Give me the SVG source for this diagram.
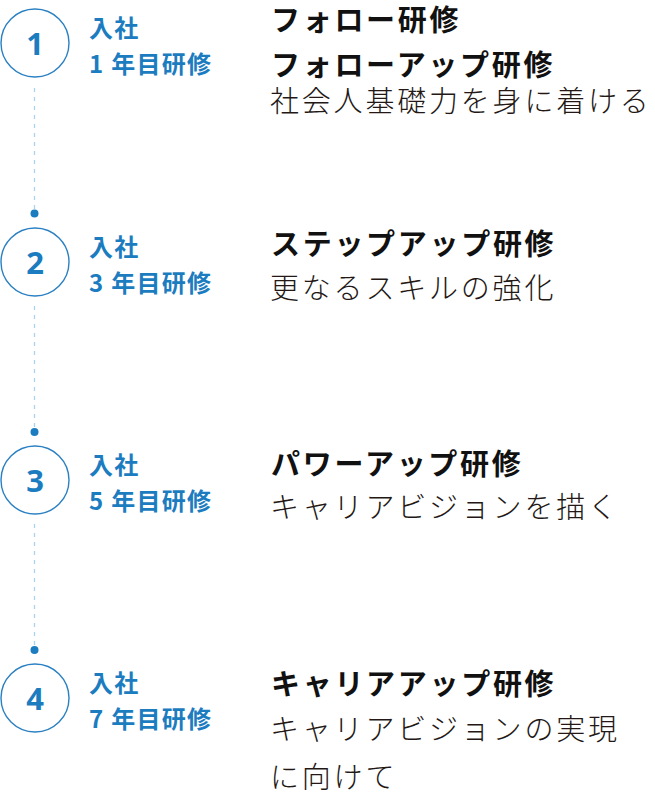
<svg xmlns="http://www.w3.org/2000/svg" width="655" height="806" viewBox="0 0 655 806">
<style>
.circ{fill:#fff;stroke:#2a80c2;stroke-width:1.4}
.num{font-family:"Noto Sans","Noto Sans CJK JP",sans-serif;font-weight:700;font-size:31px;fill:#1c7cc0;text-anchor:middle}
.lbl{font-family:"Noto Sans CJK JP",sans-serif;font-weight:700;font-size:24px;fill:#1c7cc0;letter-spacing:1.3px}
.ttl{font-family:"Noto Sans CJK JP",sans-serif;font-weight:700;font-size:29px;fill:#111;letter-spacing:2.7px}
.dsc{font-family:"Noto Sans CJK JP",sans-serif;font-weight:300;font-size:29px;fill:#231815;letter-spacing:2.8px}
.dash{stroke:#a9d3ee;stroke-width:1.3;stroke-dasharray:4 5;fill:none}
.dot{fill:#1c7cc0}
</style>
<g id="connectors">
<line class="dash" x1="34.5" y1="88" x2="34.5" y2="209"/>
<circle class="dot" cx="34.5" cy="213.5" r="4"/>
<line class="dash" x1="34.5" y1="306" x2="34.5" y2="427"/>
<circle class="dot" cx="34.5" cy="432" r="4"/>
<line class="dash" x1="34.5" y1="524" x2="34.5" y2="645"/>
<circle class="dot" cx="34.5" cy="650" r="4"/>
</g>
<g id="step1">
<circle class="circ" cx="35" cy="43" r="34"/>
<text class="num" x="35" y="54.5">1</text>
<text class="lbl" x="89" y="37">入社</text>
<text class="lbl" x="89" y="72.5">1 年目研修</text>
<text class="ttl" x="271" y="31">フォロー研修</text>
<text class="ttl" x="271" y="76">フォローアップ研修</text>
<text class="dsc" x="270" y="112">社会人基礎力を身に着ける</text>
</g>
<g id="step2">
<circle class="circ" cx="35" cy="262" r="34"/>
<text class="num" x="35" y="273.5">2</text>
<text class="lbl" x="89" y="256">入社</text>
<text class="lbl" x="89" y="291.5">3 年目研修</text>
<text class="ttl" x="271" y="254.5">ステップアップ研修</text>
<text class="dsc" x="270" y="298.5">更なるスキルの強化</text>
</g>
<g id="step3">
<circle class="circ" cx="35" cy="480" r="34"/>
<text class="num" x="35" y="491.5">3</text>
<text class="lbl" x="89" y="474">入社</text>
<text class="lbl" x="89" y="509.5">5 年目研修</text>
<text class="ttl" x="271" y="475">パワーアップ研修</text>
<text class="dsc" x="270" y="518">キャリアビジョンを描く</text>
</g>
<g id="step4">
<circle class="circ" cx="35" cy="698" r="34"/>
<text class="num" x="35" y="709.5">4</text>
<text class="lbl" x="89" y="692">入社</text>
<text class="lbl" x="89" y="727.5">7 年目研修</text>
<text class="ttl" x="271" y="695">キャリアアップ研修</text>
<text class="dsc" x="270" y="740">キャリアビジョンの実現</text>
<text class="dsc" x="270" y="788">に向けて</text>
</g>
</svg>
